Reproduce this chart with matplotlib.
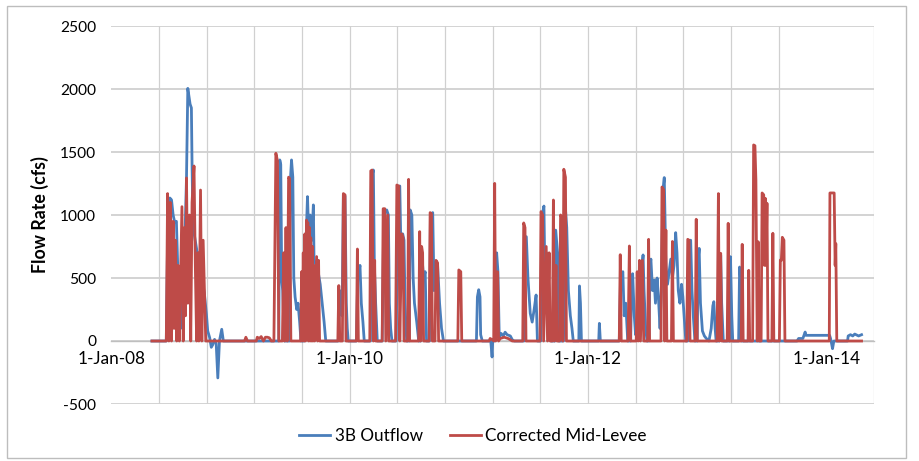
import numpy as np
import matplotlib
matplotlib.use("Agg")
import matplotlib.pyplot as plt
import matplotlib.dates as mdates
from matplotlib.patches import Rectangle

# ---------------- data ----------------
series_names = ["3B Outflow", "Corrected Mid-Levee"]

blue_dates = [
    "2008-05-04", "2008-06-17", "2008-06-22", "2008-06-28", "2008-07-03", "2008-07-08", "2008-07-13",
    "2008-07-18", "2008-07-22", "2008-07-27", "2008-07-31", "2008-08-05", "2008-08-09", "2008-08-14",
    "2008-08-18", "2008-08-22", "2008-08-25", "2008-08-29", "2008-09-02", "2008-09-04", "2008-09-07",
    "2008-09-12", "2008-09-22", "2008-10-02", "2008-10-12", "2008-10-18", "2008-10-22", "2008-10-28",
    "2008-11-02", "2008-11-07", "2008-11-12", "2008-11-17", "2008-11-22", "2008-11-27", "2008-12-04",
    "2008-12-09",
    "2009-05-28", "2009-05-31", "2009-06-03", "2009-06-06", "2009-06-09", "2009-06-14", "2009-06-30",
    "2009-07-03", "2009-07-06", "2009-07-10", "2009-07-13", "2009-07-17", "2009-07-22", "2009-07-26",
    "2009-07-31", "2009-08-04", "2009-08-14", "2009-08-17", "2009-08-21", "2009-08-24", "2009-08-27",
    "2009-09-01", "2009-09-06", "2009-09-11", "2009-09-13", "2009-09-19", "2009-09-25", "2009-10-02",
    "2009-10-08", "2009-10-14", "2009-10-19", "2009-11-27", "2009-12-01", "2009-12-08", "2009-12-12",
    "2009-12-17", "2009-12-21", "2009-12-24", "2009-12-27",
    "2010-01-21", "2010-01-25", "2010-02-01", "2010-02-05", "2010-02-10", "2010-02-14", "2010-03-05",
    "2010-03-08", "2010-03-14", "2010-03-17", "2010-03-21", "2010-03-26", "2010-04-10", "2010-04-15",
    "2010-04-24", "2010-04-29", "2010-05-02", "2010-05-06", "2010-05-10", "2010-05-23", "2010-05-28",
    "2010-06-03", "2010-06-06", "2010-06-12", "2010-06-16", "2010-06-19", "2010-06-24", "2010-07-02",
    "2010-07-05", "2010-07-10", "2010-07-14", "2010-07-18", "2010-07-25", "2010-07-31", "2010-08-06",
    "2010-08-09", "2010-08-15", "2010-08-20", "2010-08-24", "2010-09-02", "2010-09-05", "2010-09-12",
    "2010-09-16", "2010-09-21", "2010-09-27", "2010-10-03", "2010-10-09", "2010-10-15",
    "2011-01-24", "2011-01-27", "2011-01-31", "2011-02-04", "2011-02-06", "2011-02-11", "2011-03-09",
    "2011-03-13", "2011-03-15", "2011-03-21", "2011-03-24", "2011-03-27", "2011-03-31", "2011-04-04",
    "2011-04-10", "2011-04-16", "2011-04-22", "2011-04-28", "2011-05-08", "2011-05-14", "2011-05-20",
    "2011-06-19", "2011-06-22", "2011-06-26", "2011-07-01", "2011-07-08", "2011-07-14", "2011-07-20",
    "2011-07-26", "2011-07-30", "2011-08-09", "2011-08-12", "2011-08-16", "2011-08-19", "2011-08-22",
    "2011-08-27", "2011-08-31", "2011-09-05", "2011-09-10", "2011-09-22", "2011-09-24", "2011-09-30",
    "2011-10-03", "2011-10-18", "2011-10-24", "2011-10-28", "2011-11-02", "2011-11-08", "2011-11-13",
    "2011-11-17", "2011-12-04", "2011-12-06", "2011-12-09", "2011-12-12",
    "2012-02-03", "2012-02-05", "2012-02-08", "2012-04-06", "2012-04-10", "2012-04-17", "2012-04-21",
    "2012-04-26", "2012-05-02", "2012-05-11", "2012-05-14", "2012-05-17", "2012-05-22", "2012-05-26",
    "2012-06-01", "2012-06-06", "2012-06-10", "2012-06-13", "2012-06-18", "2012-06-21", "2012-06-26",
    "2012-06-30", "2012-07-06", "2012-07-09", "2012-07-12", "2012-07-17", "2012-07-22", "2012-07-26",
    "2012-07-31", "2012-08-04", "2012-08-09", "2012-08-13", "2012-08-18", "2012-08-22", "2012-08-24",
    "2012-08-27", "2012-09-01", "2012-09-06", "2012-09-11", "2012-09-16", "2012-09-21", "2012-09-26",
    "2012-09-30", "2012-10-04", "2012-10-09", "2012-10-14", "2012-10-18", "2012-10-23", "2012-10-27",
    "2012-11-02", "2012-11-05", "2012-11-11", "2012-11-15", "2012-11-19", "2012-11-24", "2012-12-01",
    "2012-12-04", "2012-12-07", "2012-12-11", "2012-12-17", "2012-12-23", "2012-12-29",
    "2013-01-06", "2013-01-13", "2013-01-18", "2013-01-21", "2013-01-25", "2013-01-28", "2013-02-07",
    "2013-02-11", "2013-02-14", "2013-02-19", "2013-03-11", "2013-03-13", "2013-03-17", "2013-03-20",
    "2013-04-07", "2013-04-10", "2013-04-13", "2013-04-16", "2013-10-03", "2013-10-08", "2013-10-21",
    "2013-10-28", "2013-10-30",
    "2014-01-11", "2014-01-14", "2014-01-20", "2014-01-24", "2014-03-07", "2014-03-09", "2014-03-16",
    "2014-03-23", "2014-03-29", "2014-04-10", "2014-04-19",
]
blue_values = [
    0, 0, 1000, 1135, 1120, 1000, 940,
    950, 600, 250, 100, 400, 700, 900,
    1300, 2005, 1950, 1880, 1850, 1400, 900,
    827, 667, 533, 373, 213, 80, 27,
    -50, -27, 13, -20, -293, 0, 93,
    0,
    0, 1437, 1400, 480, 400, 0, 0,
    1300, 1437, 1300, 500, 350, 250, 300,
    150, 0, 0, 600, 900, 1146, 900,
    1000, 800, 1080, 650, 600, 560, 450,
    300, 150, 0, 0, 400, 200, 1160,
    1150, 300, 100, 0,
    0, 500, 600, 300, 150, 0, 0,
    1300, 1357, 600, 300, 0, 0, 1000,
    1040, 1000, 300, 100, 0, 0, 1200,
    1230, 800, 850, 800, 300, 0, 0,
    1040, 1000, 500, 300, 150, 0, 0,
    700, 500, 550, 0, 0, 1000, 1019,
    400, 620, 600, 300, 100, 0,
    0, 350, 407, 350, 50, 0, 0,
    -127, 0, 0, 200, 700, 550, 30,
    60, 40, 70, 50, 40, 10, 0,
    0, 820, 828, 500, 220, 150, 250,
    365, 0, 0, 900, 1030, 1071, 500,
    700, 600, 300, 0, 0, 880, 700,
    0, 0, 1050, 900, 400, 200, 100,
    0, 0, 437, 300, 0,
    0, 140, 0, 0, 500, 550, 200,
    300, 0, 0, 450, 534, 200, 50,
    100, 484, 300, 550, 683, 400, 100,
    0, 0, 600, 650, 400, 484, 300,
    500, 350, 100, 400, 1200, 1297, 1000,
    600, 450, 550, 650, 500, 600, 860,
    700, 400, 300, 450, 350, 150, 0,
    0, 700, 800, 400, 200, 0, 0,
    650, 735, 300, 80, 40, 20,
    0, 100, 280, 312, 100, 0, 0,
    680, 300, 0, 0, 669, 200, 0,
    0, 587, 500, 0, 0, 20, 20,
    71, 45,
    45, 20, -61, 0, 0, 40, 50,
    40, 55, 40, 50,
]

red_dates = [
    "2008-05-04", "2008-06-17", "2008-06-21", "2008-06-25", "2008-06-29", "2008-07-03", "2008-07-08",
    "2008-07-11", "2008-07-15", "2008-07-19", "2008-07-23", "2008-07-27", "2008-08-04", "2008-08-08",
    "2008-08-12", "2008-08-15", "2008-08-18", "2008-08-22", "2008-08-27", "2008-08-31", "2008-09-04",
    "2008-09-10", "2008-09-14", "2008-09-18", "2008-09-22", "2008-09-25", "2008-09-30", "2008-10-04",
    "2008-10-08", "2008-10-12", "2008-10-16",
    "2009-02-12", "2009-02-16", "2009-02-21", "2009-03-20", "2009-03-23", "2009-03-29", "2009-04-04",
    "2009-04-11", "2009-04-17", "2009-04-23", "2009-04-29", "2009-05-05", "2009-05-13", "2009-05-19",
    "2009-05-24", "2009-05-28", "2009-06-08", "2009-06-12", "2009-06-15", "2009-06-19", "2009-06-23",
    "2009-06-27", "2009-06-30", "2009-07-04", "2009-08-03", "2009-08-06", "2009-08-08", "2009-08-11",
    "2009-08-14", "2009-08-16", "2009-08-18", "2009-08-21", "2009-08-23", "2009-08-25", "2009-08-27",
    "2009-08-30", "2009-09-01", "2009-09-03", "2009-09-06", "2009-09-08", "2009-09-10", "2009-09-13",
    "2009-09-15", "2009-09-21", "2009-09-24", "2009-09-27", "2009-09-30", "2009-11-25", "2009-11-28",
    "2009-12-01", "2009-12-09", "2009-12-12", "2009-12-17", "2009-12-20",
    "2010-01-21", "2010-01-24", "2010-01-27", "2010-03-03", "2010-03-06", "2010-03-10", "2010-03-14",
    "2010-03-18", "2010-03-21", "2010-04-10", "2010-04-13", "2010-04-18", "2010-04-21", "2010-04-27",
    "2010-04-30", "2010-05-21", "2010-05-25", "2010-05-31", "2010-06-03", "2010-06-09", "2010-06-13",
    "2010-06-16", "2010-06-27", "2010-06-30", "2010-07-03", "2010-07-31", "2010-08-03", "2010-08-06",
    "2010-08-09", "2010-08-12", "2010-08-15", "2010-09-01", "2010-09-04", "2010-09-08", "2010-09-11",
    "2010-09-19", "2010-09-22", "2010-09-27", "2010-09-30", "2010-11-28", "2010-12-01", "2010-12-07",
    "2010-12-10",
    "2011-03-04", "2011-03-07", "2011-03-14", "2011-03-18", "2011-03-21", "2011-03-24", "2011-03-30",
    "2011-04-02", "2011-04-07", "2011-04-19", "2011-05-01", "2011-05-14", "2011-06-15", "2011-06-18",
    "2011-06-22", "2011-06-25", "2011-08-07", "2011-08-10", "2011-08-15", "2011-08-18", "2011-08-26",
    "2011-08-30", "2011-09-04", "2011-09-07", "2011-09-14", "2011-09-17", "2011-09-20", "2011-09-25",
    "2011-09-28", "2011-10-06", "2011-10-09", "2011-10-13", "2011-10-16", "2011-10-19", "2011-10-24",
    "2011-10-27",
    "2012-04-06", "2012-04-09", "2012-04-12", "2012-05-03", "2012-05-07", "2012-05-11", "2012-05-28",
    "2012-05-31", "2012-06-03", "2012-06-07", "2012-06-10", "2012-06-16", "2012-06-20", "2012-07-02",
    "2012-07-05", "2012-07-08", "2012-08-12", "2012-08-15", "2012-08-20", "2012-08-23", "2012-08-27",
    "2012-08-30", "2012-09-13", "2012-09-16", "2012-09-19", "2012-10-30", "2012-11-02", "2012-11-06",
    "2012-11-09", "2012-11-25", "2012-11-28", "2012-12-01",
    "2013-01-31", "2013-02-04", "2013-02-07", "2013-02-11", "2013-02-14", "2013-03-03", "2013-03-06",
    "2013-03-09", "2013-04-15", "2013-04-18", "2013-04-21", "2013-05-06", "2013-05-08", "2013-05-11",
    "2013-05-20", "2013-05-23", "2013-05-27", "2013-05-30", "2013-06-03", "2013-06-06", "2013-06-09",
    "2013-06-15", "2013-06-18", "2013-06-23", "2013-06-25", "2013-06-28", "2013-06-30", "2013-07-03",
    "2013-07-06", "2013-07-18", "2013-07-21", "2013-07-24", "2013-08-10", "2013-08-13", "2013-08-16",
    "2013-08-19", "2013-08-24", "2013-08-27",
    "2014-01-10", "2014-01-12", "2014-01-25", "2014-01-28", "2014-01-30", "2014-02-02", "2014-04-19",
]
red_values = [
    0, 0, 1170, 0, 1100, 0, 950,
    100, 800, 0, 600, 0, 1066, 0,
    900, 200, 1294, 300, 1000, 0, 1100,
    1389, 600, 0, 700, 0, 1198, 0,
    800, 400, 0,
    0, 30, 0, 0, 30, 20, 35,
    0, 30, 30, 25, 0, 0, 1490,
    1430, 0, 0, 700, 0, 900, 0,
    1300, 1290, 0, 0, 550, 0, 700,
    0, 850, 0, 960, 100, 940, 0,
    900, 0, 820, 0, 750, 0, 600,
    0, 670, 0, 640, 0, 0, 440,
    0, 0, 1170, 1160, 0,
    0, 730, 0, 0, 1350, 1357, 0,
    640, 0, 0, 1050, 1050, 0, 1000,
    0, 0, 1238, 1230, 0, 850, 820,
    0, 0, 1283, 0, 0, 868, 0,
    750, 700, 0, 0, 1019, 1010, 0,
    0, 640, 620, 0, 0, 564, 550,
    0,
    0, 20, 10, 0, 1251, 0, 550,
    0, 20, 30, 20, 0, 0, 937,
    900, 0, 0, 1027, 1000, 0, 750,
    0, 700, 0, 0, 1119, 0, 600,
    0, 0, 1000, 980, 0, 1363, 1300,
    0,
    0, 685, 0, 0, 754, 0, 0,
    550, 0, 640, 0, 640, 0, 0,
    807, 0, 0, 1222, 1200, 0, 880,
    0, 0, 790, 0, 0, 807, 800,
    0, 0, 966, 0,
    0, 1170, 0, 696, 0, 0, 934,
    0, 0, 767, 0, 0, 561, 0,
    0, 1556, 1550, 1278, 0, 788, 0,
    0, 1175, 1160, 600, 1132, 600, 1093,
    0, 0, 855, 0, 0, 643, 640,
    823, 800, 0,
    0, 1175, 1175, 600, 773, 0, 0,
]

y_ticks = [-500, 0, 500, 1000, 1500, 2000, 2500]
x_tick_dates = ["2008-01-01", "2010-01-01", "2012-01-01", "2014-01-01"]
x_tick_labels = ["1-Jan-08", "1-Jan-10", "1-Jan-12", "1-Jan-14"]
y_label = "Flow Rate (cfs)"

# ---------------- style ----------------
plt.rcParams["font.family"] = ["Lato", "DejaVu Sans"]
BLUE = "#4A7EBB"
RED = "#BE4B48"
GRID = "#D0D0D0"
W, H = 920, 461

fig = plt.figure(figsize=(W / 100, H / 100), dpi=100)
fig.patch.set_facecolor("white")

# outer chart border
fig.add_artist(Rectangle((7 / W, 3 / H), (906 - 7) / W, (458 - 6) / H,
                         transform=fig.transFigure, fill=False,
                         edgecolor="#BDBDBD", linewidth=1.0))

left, right, top, bottom = 111.5, 874, 26, 404
ax = fig.add_axes([left / W, 1 - bottom / H, (right - left) / W, (bottom - top) / H])

bd = mdates.date2num(np.array(blue_dates, dtype="datetime64[D]"))
rd = mdates.date2num(np.array(red_dates, dtype="datetime64[D]"))
ax.plot(bd, blue_values, color=BLUE, lw=2.0, label=series_names[0], zorder=3)
ax.plot(rd, red_values, color=RED, lw=2.0, label=series_names[1], zorder=4)

xt = mdates.date2num(np.array(x_tick_dates, dtype="datetime64[D]"))
step = (xt[-1] - xt[0]) / 15.0
minor = xt[0] + step * np.arange(17)
ax.set_xlim(minor[0], minor[-1])
ax.set_ylim(y_ticks[0], y_ticks[-1])

ax.set_xticks(xt)
ax.set_xticklabels(x_tick_labels)
ax.set_xticks(minor, minor=True)
ax.set_yticks(y_ticks)
ax.set_yticklabels([str(v) for v in y_ticks])

ax.grid(False)
ax.xaxis.grid(True, which="minor", color=GRID, lw=0.9, zorder=0)
ax.yaxis.grid(True, which="major", color=GRID, lw=1.3, zorder=0)
ax.set_axisbelow(True)

for s in ["top", "right", "left"]:
    ax.spines[s].set_visible(False)
ax.spines["bottom"].set_position(("data", 0))
ax.spines["bottom"].set_color("#BFBFBF")
ax.spines["bottom"].set_linewidth(1.0)

ax.tick_params(axis="both", which="both", length=0, colors="#000000")
ax.tick_params(axis="x", which="major", pad=7, labelsize=12.3)
ax.tick_params(axis="y", which="major", pad=11, labelsize=11.2)

fig.text(40 / W, 1 - 215 / H, y_label, rotation=90, ha="center", va="center",
         fontsize=12.8, fontweight="bold")

fig.legend(loc="center", bbox_to_anchor=(473 / W, 1 - 436 / H), ncol=2, frameon=False,
           fontsize=12.3, handlelength=1.8, handletextpad=0.25, columnspacing=1.6)

fig.savefig("out.png", dpi=100, facecolor="white")
